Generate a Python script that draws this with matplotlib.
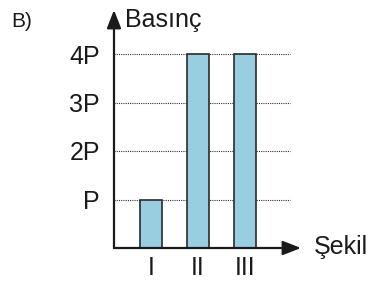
import matplotlib
matplotlib.use("Agg")
import matplotlib.pyplot as plt

plt.rcParams['font.family'] = ['Liberation Sans', 'DejaVu Sans']

# data
categories = ["I", "II", "III"]
values = [1, 4, 4]
ytick_vals = [1, 2, 3, 4]
ytick_labels = ["P", "2P", "3P", "4P"]

W, H = 372, 284
fig = plt.figure(figsize=(W / 100, H / 100), dpi=100)

# axes box: origin at (114, 248) px, arrow tips at x=301, y=10
left, bottom, right, top = 114, 248, 301, 10
ax = fig.add_axes([left / W, (H - bottom) / H, (right - left) / W, (bottom - top) / H])

step_x = 47.0   # px per category
step_y = 48.5   # px per P
x0 = 1 - 37 / step_x
ax.set_xlim(x0, x0 + (right - left) / step_x)
ax.set_ylim(0, (bottom - top) / step_y)

xs = [1, 2, 3]
ax.bar(xs, values, width=22 / step_x, color="#98cee0", edgecolor="#2a2a2a",
       linewidth=1.2, zorder=3)

# dotted reference lines
ax.hlines(ytick_vals, x0, x0 + 176 / step_x, colors="#333333",
          linestyles=(0, (1, 1)), linewidth=0.8, zorder=2)

for s in ax.spines.values():
    s.set_visible(False)

# axes with arrows
arrow = dict(arrowstyle="-|>,head_length=1.1,head_width=0.43",
             color="#1a1a1a", lw=1.6, shrinkA=0, shrinkB=0)
ax.annotate("", xy=(0, 1), xytext=(0, 0), xycoords="axes fraction",
            arrowprops=arrow, annotation_clip=False)
ax.annotate("", xy=(1, 0), xytext=(0, 0), xycoords="axes fraction",
            arrowprops=arrow, annotation_clip=False)

ax.set_yticks(ytick_vals)
ax.set_yticklabels(ytick_labels)
ax.set_xticks(xs)
ax.set_xticklabels(categories)
ax.tick_params(axis="y", length=0, pad=10, labelsize=18, colors="#1a1a1a")
ax.tick_params(axis="x", length=0, pad=6, labelsize=18, colors="#1a1a1a")

fig.text(125 / W, (H - 20) / H, "Basınç", fontsize=18, va="center", ha="left",
         color="#1a1a1a")
fig.text(314 / W, (H - 254) / H, "Şekil", fontsize=18, va="baseline", ha="left",
         color="#1a1a1a")
fig.text(11 / W, (H - 27) / H, "B)", fontsize=15, va="baseline", ha="left",
         color="#1a1a1a", family=["Liberation Sans Narrow", "Liberation Sans"])

fig.savefig("out.png", dpi=100)
